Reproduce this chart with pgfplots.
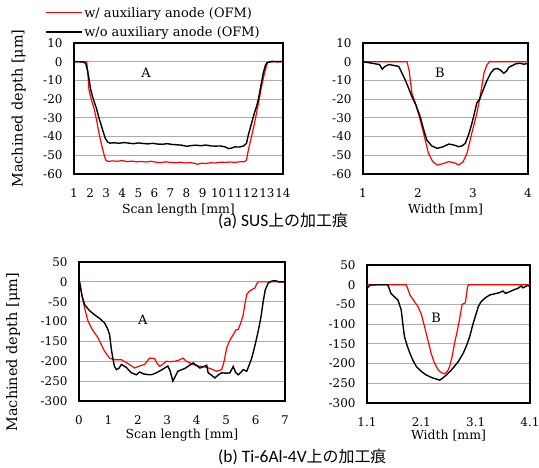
\documentclass[border=0pt]{standalone}
\usepackage{fontspec}
\setmainfont{DejaVu Serif}
\newfontfamily\capfont{Carlito}
\newfontfamily\cjk{Noto Sans CJK JP}
\usepackage{pgfplots}
\pgfplotsset{compat=1.18}

\pgfplotsset{
  depth/.style={
    scale only axis,
    axis line style={black, line width=1.2pt},
    ymajorgrids, xmajorgrids=false,
    major grid style={gray!65, line width=1pt},
    major tick length=0pt,
    tick style={draw=none},
    /pgf/number format/assume math mode=true,
    tick label style={font=\fontsize{12}{13}\selectfont},
    yticklabel style={xshift=-8bp},
    xlabel style={font=\fontsize{12.5}{14}\selectfont},
    ylabel style={font=\fontsize{14.5}{16}\selectfont},
    every axis plot/.append style={no marks},
  },
}

\begin{document}
\begin{tikzpicture}
\path[use as bounding box] (0,0) rectangle (539bp,468bp);

% (a) SUS, A
\begin{axis}[depth,
  at={(74bp,294bp)}, anchor=south west, width=209bp, height=131bp,
  xmin=1, xmax=14, ymin=-60, ymax=10,
  xtick={1,2,...,14}, ytick={-60,-50,...,10},
  xticklabel style={yshift=-11bp},
  xlabel={Scan length [mm]}, ylabel={Machined depth [μm]},
  xlabel style={at={(axis description cs:0.5,-0.275)}, anchor=center},
  ylabel style={at={(axis description cs:-0.265,0.5)}, anchor=center},
  legend style={at={(axis description cs:-0.14,1.29)}, anchor=north west,
    draw=none, fill=none, inner sep=0pt, row sep=4bp,
    font=\fontsize{13}{14}\selectfont, cells={anchor=west}},
  legend image code/.code={\draw[#1] (0bp,0bp) -- (36bp,0bp);},
]
\addplot[color=red, line width=1.2pt] coordinates {(1,0) (1.5,0) (1.79,0) (1.85,-5) (1.93,-15) (2.1,-21) (2.25,-25) (2.4,-31) (2.55,-38) (2.7,-44) (2.85,-49) (2.97,-52.5) (3.1,-53.3) (3.4,-53) (3.7,-53.2) (4,-52.8) (4.3,-53.4) (4.6,-53.1) (4.9,-53.5) (5.2,-53.3) (5.5,-53.6) (5.8,-53.2) (6.1,-53.7) (6.4,-53.9) (6.7,-53.5) (7,-53.8) (7.3,-54) (7.6,-53.7) (7.9,-54.1) (8.2,-53.9) (8.5,-54.3) (8.7,-54.8) (8.9,-54.2) (9.2,-54.4) (9.5,-54) (9.8,-54.1) (10.1,-53.7) (10.4,-53.8) (10.7,-53.6) (11,-53.8) (11.3,-53.5) (11.6,-53.4) (11.73,-52.5) (11.85,-47) (12.04,-40) (12.2,-34) (12.35,-27.6) (12.5,-21) (12.66,-13.4) (12.85,-6) (13,-1.5) (13.07,-0.3) (13.5,0) (14,0)};
\addlegendentry{w/ auxiliary anode (OFM)}
\addplot[color=black, line width=1.4pt] coordinates {(1,0) (1.3,0) (1.6,-0.2) (1.73,-1) (1.85,-5) (1.95,-10) (2.04,-15) (2.2,-20) (2.4,-25) (2.55,-30) (2.66,-33) (2.8,-37) (2.95,-41) (3.1,-43) (3.25,-43.5) (3.5,-43.3) (3.8,-43.6) (4.1,-43.2) (4.4,-43.5) (4.7,-43.8) (5,-43.4) (5.3,-43.7) (5.6,-43.9) (5.9,-43.6) (6.2,-44) (6.5,-44.1) (6.8,-43.8) (7.1,-44.2) (7.4,-44.4) (7.7,-44.6) (8,-45.2) (8.3,-44.8) (8.6,-44.6) (8.9,-44.9) (9.2,-44.5) (9.5,-45) (9.8,-45.1) (10.1,-45) (10.4,-45.5) (10.6,-46.4) (10.8,-46.2) (11,-45.5) (11.3,-45.6) (11.55,-45) (11.73,-43.6) (11.85,-39) (12.04,-33) (12.2,-28) (12.35,-24) (12.46,-20.5) (12.6,-14) (12.77,-6.2) (12.9,-2) (13,-0.5) (13.3,0.2) (13.7,0) (14,0.2)};
\addlegendentry{w/o auxiliary anode (OFM)}
\node[font=\fontsize{13}{14}\selectfont] at (axis cs:5.48,-6) {A};
\end{axis}

% (a) SUS, B
\begin{axis}[depth,
  at={(363bp,294bp)}, anchor=south west, width=165bp, height=131bp,
  xmin=1, xmax=4, ymin=-60, ymax=10,
  xtick={1,2,3,4}, ytick={-60,-50,...,10},
  xticklabel style={yshift=-11bp},
  xlabel={Width [mm]},
  xlabel style={at={(axis description cs:0.5,-0.275)}, anchor=center},
]
\addplot[color=red, line width=1.2pt] coordinates {(1,0) (1.5,0) (1.8,0) (1.84,-5) (1.89,-17) (1.95,-22) (2.03,-30) (2.1,-38) (2.19,-49) (2.27,-53.5) (2.35,-55.2) (2.45,-54.5) (2.56,-53.4) (2.66,-54) (2.74,-55.2) (2.82,-53.5) (2.89,-49) (2.98,-38) (3.07,-27.6) (3.12,-20) (3.16,-13.4) (3.2,-6) (3.25,-1.8) (3.3,0) (3.6,0) (4,0)};
\addplot[color=black, line width=1.4pt] coordinates {(1,0) (1.1,-0.5) (1.2,-1) (1.3,-1.5) (1.35,-4) (1.4,-2.5) (1.47,-1.5) (1.56,-2) (1.65,-2.5) (1.74,-8) (1.8,-12) (1.89,-18.7) (1.96,-23) (2.04,-29.4) (2.1,-36) (2.16,-41.8) (2.25,-45) (2.35,-46.3) (2.45,-45.5) (2.56,-44) (2.65,-44.5) (2.74,-45.4) (2.8,-45) (2.86,-43.6) (2.92,-39) (2.98,-33) (3.03,-27) (3.07,-22) (3.12,-20) (3.16,-17) (3.24,-11) (3.32,-6.2) (3.38,-4) (3.44,-3.6) (3.5,-4.5) (3.56,-6.2) (3.61,-5) (3.65,-3) (3.72,-2) (3.77,-1.2) (3.85,-0.8) (3.92,-1.3) (4,-1)};
\node[font=\fontsize{13}{14}\selectfont] at (axis cs:2.4,-6) {B};
\end{axis}

% (b) Ti-6Al-4V, A
\begin{axis}[depth,
  at={(79bp,67bp)}, anchor=south west, width=206bp, height=139bp,
  xmin=0, xmax=7, ymin=-300, ymax=50,
  xtick={0,1,...,7}, ytick={-300,-250,...,50},
  xticklabel style={yshift=-11bp},
  xlabel={Scan length [mm]}, ylabel={Machined depth [μm]},
  xlabel style={at={(axis description cs:0.5,-0.245)}, anchor=center},
  ylabel style={at={(axis description cs:-0.32,0.35)}, anchor=center},
]
\addplot[color=red, line width=1.2pt] coordinates {(0.02,0) (0.08,-25) (0.14,-49) (0.22,-75) (0.31,-99) (0.45,-120) (0.65,-141) (0.77,-160) (0.87,-175) (1.04,-192) (1.2,-196) (1.44,-196) (1.6,-203) (1.75,-210) (1.89,-217) (2.05,-212) (2.23,-208) (2.33,-198) (2.4,-192) (2.57,-193) (2.65,-205) (2.74,-213) (2.85,-207) (2.97,-200) (3.1,-201) (3.25,-200) (3.4,-197) (3.53,-192) (3.65,-200) (3.88,-208) (4.05,-212) (4.22,-213) (4.45,-218) (4.68,-225) (4.85,-221) (4.93,-200) (5.02,-166) (5.12,-148) (5.24,-133) (5.33,-121) (5.41,-120) (5.5,-103) (5.58,-83) (5.64,-55) (5.7,-32) (5.78,-24) (5.87,-20) (5.98,-15) (6.04,-5) (6.09,0) (6.5,0) (7,0)};
\addplot[color=black, line width=1.4pt] coordinates {(0.02,0) (0.1,-35) (0.19,-57) (0.35,-72) (0.53,-83) (0.7,-92) (0.87,-103.5) (0.97,-118) (1.04,-133) (1.1,-170) (1.15,-192) (1.2,-212) (1.27,-221) (1.35,-218) (1.44,-208) (1.6,-215) (1.78,-229) (1.95,-234) (2.06,-227) (2.2,-232) (2.4,-234) (2.5,-233) (2.63,-229) (2.8,-222) (3.02,-212) (3.1,-225) (3.19,-250) (3.27,-238) (3.36,-225) (3.6,-218) (3.88,-204) (3.95,-208) (4.11,-217) (4.25,-213) (4.34,-210) (4.39,-229) (4.5,-235) (4.62,-242) (4.72,-235) (4.85,-229) (5,-230) (5.13,-229) (5.24,-213) (5.32,-228) (5.41,-234) (5.5,-228) (5.58,-221) (5.7,-225) (5.78,-210) (5.87,-192) (5.98,-160) (6.09,-124) (6.18,-90) (6.26,-49) (6.33,-20) (6.43,-3) (6.55,2) (6.66,3) (6.8,0) (7,0)};
\node[font=\fontsize{13}{14}\selectfont] at (axis cs:2.17,-96) {A};
\end{axis}

% (b) Ti-6Al-4V, B
\begin{axis}[depth,
  at={(367bp,65bp)}, anchor=south west, width=163bp, height=138bp,
  xmin=1.1, xmax=4.1, ymin=-300, ymax=50,
  xtick={1.1,2.1,3.1,4.1}, xticklabels={1.1,2.1,3.1,4.1},
  ytick={-300,-250,...,50},
  xticklabel style={yshift=-11bp},
  xlabel={Width [mm]},
  xlabel style={at={(axis description cs:0.5,-0.235)}, anchor=center},
]
\addplot[color=red, line width=1.2pt] coordinates {(1.1,0) (1.5,0) (1.82,0) (1.85,-10) (1.89,-26) (1.95,-38) (2.04,-56) (2.1,-75) (2.16,-107) (2.22,-140) (2.28,-174) (2.34,-198) (2.41,-216) (2.47,-223) (2.53,-226) (2.58,-220) (2.62,-208) (2.67,-180) (2.71,-149) (2.76,-118) (2.8,-90) (2.85,-50) (2.91,-46) (2.95,-5) (2.97,0) (3.5,0) (4.1,0)};
\addplot[color=black, line width=1.4pt] coordinates {(1.1,-9) (1.14,-3) (1.17,-1) (1.3,0) (1.48,0) (1.51,-10) (1.54,-22) (1.6,-30) (1.67,-39) (1.73,-64) (1.76,-100) (1.79,-132) (1.84,-155) (1.89,-174) (1.95,-193) (2.01,-208) (2.1,-220) (2.19,-229) (2.3,-236) (2.44,-242) (2.5,-236) (2.56,-229) (2.62,-221) (2.68,-212) (2.78,-195) (2.87,-174) (2.93,-155) (2.99,-132) (3.05,-100) (3.11,-73) (3.15,-55) (3.2,-43) (3.28,-33) (3.36,-26) (3.45,-23) (3.54,-20) (3.6,-16) (3.65,-22) (3.72,-18) (3.8,-13) (3.88,-9) (3.94,-3) (3.97,-8) (4.0,-6) (4.05,-2) (4.1,-4)};
\node[font=\fontsize{13}{14}\selectfont] at (axis cs:2.37,-85) {B};
\end{axis}

\node[anchor=west, inner sep=0pt] at (218bp,247bp) {\fontsize{17.5}{19}\capfont (a) SUS{\cjk\fontsize{16}{18}\selectfont 上の加工痕}};
\node[anchor=west, inner sep=0pt] at (218bp,11bp) {\fontsize{17.5}{19}\capfont (b) Ti-6Al-4V{\cjk\fontsize{16}{18}\selectfont 上の加工痕}};
\end{tikzpicture}
\end{document}
